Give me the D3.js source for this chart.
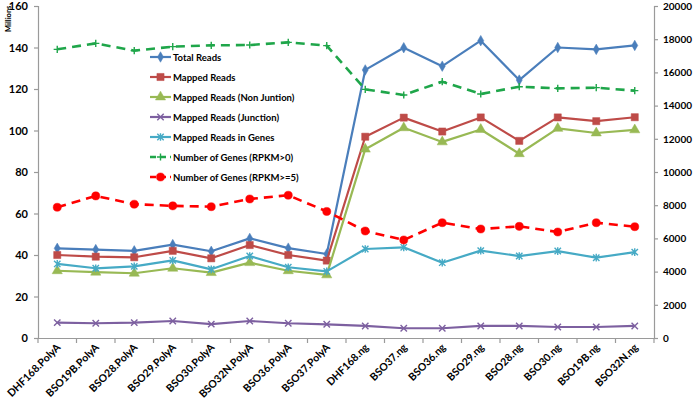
<!DOCTYPE html>
<html><head><meta charset="utf-8">
<script src="https://cdn.jsdelivr.net/npm/d3@7"></script>
<style>body{margin:0;background:#fff}svg{display:block}text{font-family:Lato,"Open Sans",sans-serif;font-weight:bold;fill:#000}</style>
</head><body><svg id="c" width="694" height="401"></svg>
<script>
const categories = ["DHF168.PolyA","BSO19B.PolyA","BSO28.PolyA","BSO29.PolyA","BSO30.PolyA","BSO32N.PolyA","BSO36.PolyA","BSO37.PolyA","DHF168.ng","BSO37.ng","BSO36.ng","BSO29.ng","BSO28.ng","BSO30.ng","BSO19B.ng","BSO32N.ng"];
const totalReads = [43.2,42.6,42,45,41.8,48,43.3,40.5,129.2,139.9,131,143.3,124.3,140,139.1,141];
const mappedReads = [40,39.2,38.9,42,38.4,44.8,40,37.3,97,106.2,99.5,106.3,95,106.3,104.5,106.4];
const mappedNonJunction = [32.4,31.7,31.2,33.6,31.5,36.3,32.4,30.4,91,101.3,94.5,100.5,88.8,101,98.8,100.3];
const mappedJunction = [7.4,7.1,7.4,8.2,6.7,8.2,7.1,6.6,5.8,4.7,4.7,5.8,5.8,5.3,5.3,5.8];
const mappedInGenes = [35.7,33.6,34.5,37.4,33.1,39.5,34.1,32.1,42.9,43.7,36.3,42.1,39.5,41.9,38.7,41.4];
const genesRPKM0 = [17390,17750,17310,17550,17630,17650,17810,17610,14980,14640,15440,14700,15140,15040,15080,14900];
const genesRPKM5 = [7875,8560,8060,7960,7910,8375,8600,7625,6446,5904,6946,6566,6726,6385,6946,6705];
const leftTicks = [0,20,40,60,80,100,120,140,160];
const rightTicks = [0,2000,4000,6000,8000,10000,12000,14000,16000,18000,20000];

const series = [
  {name:"Total Reads", values: totalReads, axis:"L", color:"#4A7EBB", marker:"diamond", dash:null},
  {name:"Mapped Reads", values: mappedReads, axis:"L", color:"#BE4B48", marker:"square", dash:null},
  {name:"Mapped Reads (Non Juntion)", values: mappedNonJunction, axis:"L", color:"#98B954", marker:"triangle", dash:null},
  {name:"Mapped Reads (Junction)", values: mappedJunction, axis:"L", color:"#7D60A0", marker:"x", dash:null},
  {name:"Mapped Reads in Genes", values: mappedInGenes, axis:"L", color:"#46AAC5", marker:"star", dash:null},
  {name:"Number of Genes (RPKM>0)", values: genesRPKM0, axis:"R", color:"#1FA64A", marker:"plus", dash:"9,6"},
  {name:"Number of Genes (RPKM>=5)", values: genesRPKM5, axis:"R", color:"#FF0000", marker:"circle", dash:"9,6"}
];

const svg = d3.select("#c");
const L = 38, R = 654, T = 6, B = 338;
const x = d3.scaleBand().domain(categories).range([L, R]);
const yL = d3.scaleLinear().domain([0,160]).range([B, T]);
const yR = d3.scaleLinear().domain([0,20000]).range([B, T]);
const cx = c => x(c) + x.bandwidth()/2;
const axisColor = "#9a9a9a";

const gL = svg.append("g").attr("transform",`translate(${L},0)`)
  .call(d3.axisLeft(yL).tickValues(leftTicks).tickSize(4).tickPadding(6));
const gR = svg.append("g").attr("transform",`translate(${R},0)`)
  .call(d3.axisRight(yR).tickValues(rightTicks).tickFormat(d3.format("d")).tickSize(4).tickPadding(5));
const gX = svg.append("g").attr("transform",`translate(0,${B})`)
  .call(d3.axisBottom(x).tickSize(0).tickFormat(""));
[gL,gR,gX].forEach(g=>{g.select(".domain").attr("stroke",axisColor).attr("stroke-width",1.2);
  g.selectAll(".tick line").attr("stroke",axisColor).attr("stroke-width",1.2);
  g.selectAll("text").attr("font-size",11).style("font-family","Lato, sans-serif").style("font-weight","bold").attr("fill","#000");});
gR.selectAll("text").attr("font-size",10);
const bounds = categories.map(c=>x(c)).concat([R]);
svg.append("g").selectAll("line").data(bounds).join("line")
  .attr("x1",d=>d).attr("x2",d=>d).attr("y1",B).attr("y2",B+5)
  .attr("stroke",axisColor).attr("stroke-width",1.2);
svg.append("g").selectAll("text").data(categories).join("text")
  .attr("transform",d=>`translate(${cx(d)+4},${B+10}) rotate(-45)`)
  .attr("text-anchor","end").attr("font-size",10.5).text(d=>d);

svg.append("text").attr("transform","translate(11,32) rotate(-90)")
  .attr("font-size",7.5).text("Millions");

function markerPath(type, s){
  switch(type){
    case "diamond": return d3.symbol(d3.symbolDiamond, s*s*0.5)();
    case "square": return d3.symbol(d3.symbolSquare, s*s*0.8)();
    case "triangle": return d3.symbol(d3.symbolTriangle, s*s*0.7)();
    case "circle": return d3.symbol(d3.symbolCircle, s*s*0.8)();
    case "x": {const h=s*0.4; return `M${-h},${-h}L${h},${h}M${-h},${h}L${h},${-h}`;}
    case "star": {const h=s*0.4; return `M${-h},${-h}L${h},${h}M${-h},${h}L${h},${-h}M0,${-h*1.2}L0,${h*1.2}`;}
    case "plus": {const h=s*0.45; return `M${-h},0L${h},0M0,${-h}L0,${h}`;}
  }
}
const strokeOnly = t => t==="x"||t==="star"||t==="plus";

series.forEach(sr=>{
  const yS = sr.axis==="L" ? yL : yR;
  const line = d3.line().x((d,i)=>cx(categories[i])).y(d=>yS(d));
  svg.append("path").datum(sr.values).attr("d",line).attr("fill","none")
    .attr("stroke",sr.color).attr("stroke-width",sr.dash?2.6:2.2)
    .attr("stroke-dasharray",sr.dash).attr("stroke-linejoin","round");
  svg.append("g").selectAll("path").data(sr.values).join("path")
    .attr("transform",(d,i)=>`translate(${cx(categories[i])},${yS(d)})`)
    .attr("d",markerPath(sr.marker,8))
    .attr("fill",strokeOnly(sr.marker)?"none":sr.color)
    .attr("stroke",sr.color).attr("stroke-width",strokeOnly(sr.marker)?1.4:0.5);
});

const lg = svg.append("g").attr("transform","translate(150,57)");
series.forEach((sr,i)=>{
  const g = lg.append("g").attr("transform",`translate(0,${i*20})`);
  g.append("line").attr("x1",0).attr("x2",21).attr("y1",0).attr("y2",0)
    .attr("stroke",sr.color).attr("stroke-width",sr.dash?2.6:2.2).attr("stroke-dasharray",sr.dash?"6,4":null);
  g.append("path").attr("transform","translate(10.5,0)").attr("d",markerPath(sr.marker,8))
    .attr("fill",strokeOnly(sr.marker)?"none":sr.color).attr("stroke",sr.color)
    .attr("stroke-width",strokeOnly(sr.marker)?1.4:0.5);
  g.append("text").attr("x",23).attr("y",3.5).attr("font-size",9.5).text(sr.name);
});
</script></body></html>
